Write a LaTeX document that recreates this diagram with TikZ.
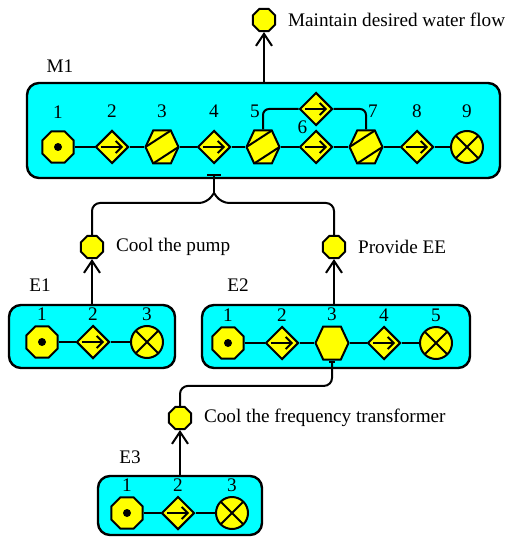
\documentclass[tikz,border=0pt]{standalone}
\usepackage{fontspec}
\setmainfont{Liberation Serif}
\usepackage{tikz}
\usetikzlibrary{arrows.meta,shapes,positioning,calc}
\definecolor{boxcyan}{RGB}{0,255,255}
\definecolor{fnyellow}{RGB}{255,255,0}
\tikzstyle{goalarrow} = [line width=1pt,-{Straight Barb[length=6pt,width=8pt]}]
\tikzstyle{barlink} = [line width=1pt,rounded corners=4pt]

\begin{document}
\begin{tikzpicture}[x=0.5pt, y=-0.5pt, line width=1pt,
    font=\fontsize{9.6}{11.5}\selectfont,
    every label/.style={inner sep=0pt},
    module/.style={rectangle, rounded corners=6pt, draw, line width=1.2pt, fill=boxcyan, inner sep=0pt},
    goal/.style={regular polygon, regular polygon sides=8, minimum size=12pt, inner sep=0pt, draw, fill=fnyellow},
    gtext/.style={label={[xshift=5.5pt]right:#1}},
    source/.style={regular polygon, regular polygon sides=8, minimum size=17pt, inner sep=0pt, draw, fill=fnyellow,
        path picture={\fill[black] (path picture bounding box.center) circle (2pt);}},
    flow/.style={diamond, minimum width=16.5pt, minimum height=16.5pt, inner sep=0pt, draw, fill=fnyellow,
        path picture={\draw[-{Straight Barb[length=3pt,width=6pt]}] ([xshift=2.5pt]path picture bounding box.west) -- ([xshift=-2.5pt]path picture bounding box.east);}},
    store/.style={signal, signal to=west and east, signal from=nowhere, signal pointer angle=130, minimum width=16.5pt, minimum height=16.5pt, inner sep=0pt, draw, fill=fnyellow},
    striped/.style={store,
        path picture={\draw (path picture bounding box.west) -- ([xshift=-3.8pt]path picture bounding box.north east)
            ([xshift=3.8pt]path picture bounding box.south west) -- (path picture bounding box.east);}},
    sink/.style={circle, minimum size=16pt, inner sep=0pt, draw, fill=fnyellow,
        path picture={\draw (path picture bounding box.north west) -- (path picture bounding box.south east)
            (path picture bounding box.north east) -- (path picture bounding box.south west);}},
    mnum/.style={label={[yshift=5.5pt]above:#1}},
    enum/.style={label={[yshift=1.75pt]above:#1}}]

\useasboundingbox (0,0) rectangle (508,539);

% Modules
\node[module, minimum width=236.5pt, minimum height=47.5pt] (M1box) at (263.5,130.5) {};
\node[module, minimum width=83pt, minimum height=31.5pt] (E1box) at (92,336.5) {};
\node[module, minimum width=134pt, minimum height=31.5pt] (E2box) at (336,336.5) {};
\node[module, minimum width=82pt, minimum height=29.5pt] (E3box) at (180,505.5) {};

\node (M1name) at (60,66) {M1};
\node (E1name) at (40,285) {E1};
\node (E2name) at (238,285) {E2};
\node (E3name) at (130,457) {E3};

% Goals
\node[goal, gtext={Maintain desired water flow}] (g0) at (264,20) {};
\node[goal, gtext={Cool the pump}] (g1) at (92,247) {};
\node[goal, gtext={Provide EE}] (g2) at (334,247) {};
\node[goal, gtext={Cool the frequency transformer}] (g3) at (180,418) {};

% M1 flow
\node[source, mnum=1] (m1) at (58,147) {};
\node[flow, mnum=2] (m2) at (112,147) {};
\node[striped, mnum=3] (m3) at (162,147) {};
\node[flow, mnum=4] (m4) at (214,147) {};
\node[striped, label={[xshift=-4pt,yshift=5.5pt]above:5}] (m5) at (263,147) {};
\node[flow, label={[xshift=-6.75pt,yshift=-2.5pt]above:6}] (m6) at (316,147) {};
\node[flow] (mby) at (316,109) {};
\node[striped, label={[xshift=3.5pt,yshift=5.5pt]above:7}] (m7) at (366,147) {};
\node[flow, mnum=8] (m8) at (417,147) {};
\node[sink, mnum=9] (m9) at (467,147) {};

\draw (m1) -- (m2) -- (m3) -- (m4) -- (m5) -- (m6) -- (m7) -- (m8) -- (m9);
\draw[rounded corners=3pt] (m5.north) |- (mby.west);
\draw[rounded corners=3pt] (mby.east) -| (m7.north);

% E1 flow
\node[source, enum=1] (e11) at (42,342) {};
\node[flow, enum=2] (e12) at (93,342) {};
\node[sink, enum=3] (e13) at (147,342) {};
\draw (e11) -- (e12) -- (e13);

% E2 flow
\node[source, enum=1] (e21) at (228,343) {};
\node[flow, enum=2] (e22) at (282,343) {};
\node[store, enum=3] (e23) at (332,343) {};
\node[flow, enum=4] (e24) at (384,343) {};
\node[sink, enum=5] (e25) at (436,343) {};
\draw (e21) -- (e22) -- (e23) -- (e24) -- (e25);

% E3 flow
\node[source, enum=1] (e31) at (127,513) {};
\node[flow, enum=2] (e32) at (178,513) {};
\node[sink, enum=3] (e33) at (232,513) {};
\draw (e31) -- (e32) -- (e33);

% Modules to goals
\draw[goalarrow] (g0 |- M1box.north) -- (g0);
\draw[goalarrow] (g1 |- E1box.north) -- (g1);
\draw[goalarrow] (g2 |- E2box.north) -- (g2);
\draw[goalarrow] (g3 |- E3box.north) -- (g3);

% Goals to means
\coordinate (mjoin) at (214,193);
\draw[barlink] (g1.north) |- ([shift={(-3.5pt,-5pt)}]mjoin) -- (mjoin);
\draw[barlink] (g2.north) |- ([shift={(3.5pt,-5pt)}]mjoin) -- (mjoin);
\draw[-{Bar[width=7pt]}] (mjoin) -- ([yshift=-5pt]m4.south);
\draw[barlink, -{Bar[width=3pt]}] (g3.north) -- ++(0,-20) -| (e23.south);

\end{tikzpicture}
\end{document}
